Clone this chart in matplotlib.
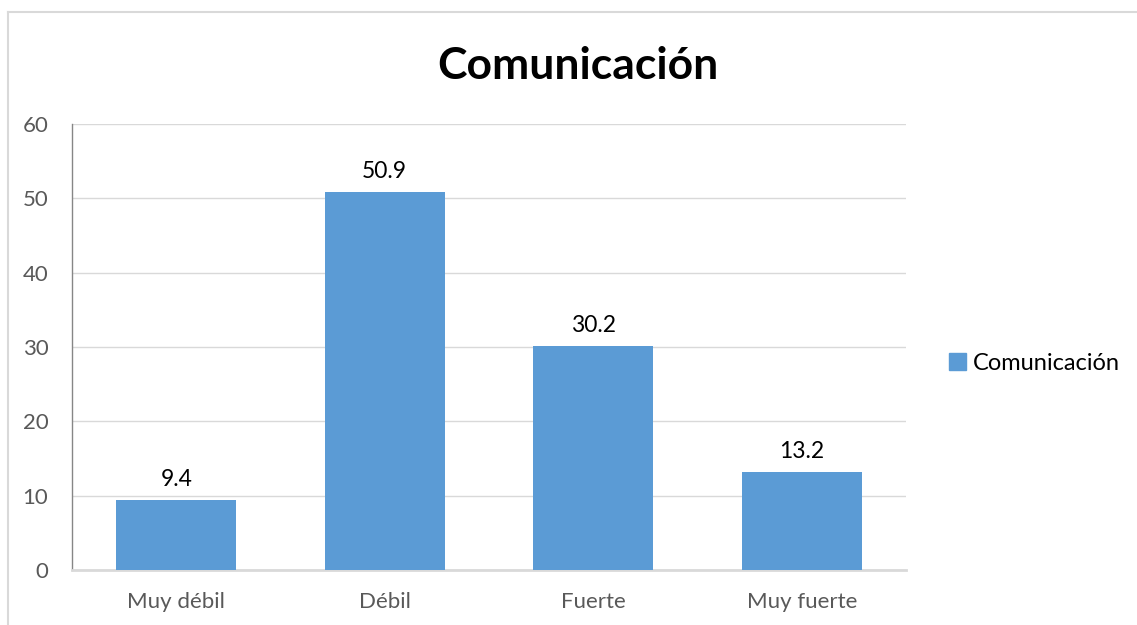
import matplotlib.pyplot as plt
from matplotlib.lines import Line2D
from matplotlib.patches import Patch

categorias = ['Muy débil', 'Débil', 'Fuerte', 'Muy fuerte']
valores = [9.4, 50.9, 30.2, 13.2]
serie = 'Comunicación'

plt.rcParams['font.family'] = ['Lato', 'DejaVu Sans']

fig = plt.figure(figsize=(11.37, 6.25), dpi=100)
ax = fig.add_axes([72 / 1137, 1 - 570 / 625, (906 - 72) / 1137, (570 - 124) / 625])

bars = ax.bar(range(len(categorias)), valores, width=0.575, color='#5B9BD5', zorder=3)
for b, v in zip(bars, valores):
    ax.annotate(f'{v:.1f}', (b.get_x() + b.get_width() / 2, v), xytext=(0, 7),
                textcoords='offset points', ha='center', va='bottom', fontsize=16.5, color='black')

ax.set_xlim(-0.5, len(categorias) - 0.5)
ax.set_ylim(0, 60)
ax.set_yticks(range(0, 61, 10))
ax.set_xticks(range(len(categorias)))
ax.set_xticklabels(categorias)
ax.tick_params(axis='both', length=0, labelsize=16, labelcolor='#595959')
ax.tick_params(axis='y', pad=17)
ax.tick_params(axis='x', pad=16)
ax.yaxis.grid(True, color='#d9d9d9', linewidth=1, zorder=0)
for s in ['top', 'right']:
    ax.spines[s].set_visible(False)
ax.spines['left'].set_color('#868686')
ax.spines['left'].set_linewidth(1)
ax.spines['bottom'].set_color('#d9d9d9')
ax.spines['bottom'].set_linewidth(2)

fig.text(578 / 1137, 1 - 66 / 625, serie, ha='center', va='center',
         fontsize=32, fontweight='bold', color='black')

fig.legend(handles=[Patch(color='#5B9BD5', label=serie)], loc='center left',
           bbox_to_anchor=(940 / 1137, 1 - 363 / 625), frameon=False, fontsize=17,
           handlelength=0.7, handleheight=0.7, handletextpad=0.3, borderaxespad=0)

# marco del gráfico (solo borde izquierdo y superior visibles)
fig.add_artist(Line2D([8 / 1137, 8 / 1137], [0, 1 - 12 / 625], transform=fig.transFigure,
                      color='#d9d9d9', linewidth=1.5))
fig.add_artist(Line2D([8 / 1137, 1], [1 - 12 / 625, 1 - 12 / 625], transform=fig.transFigure,
                      color='#d9d9d9', linewidth=1.5))

fig.savefig('out.png', dpi=100)
